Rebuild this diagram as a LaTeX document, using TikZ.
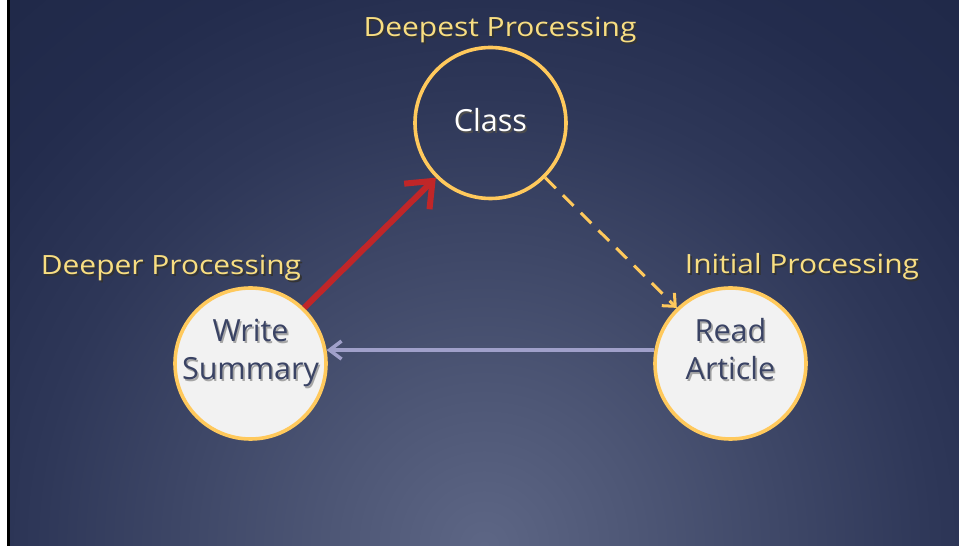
\documentclass[tikz,border=0pt]{standalone}
\usepackage{fontspec}
\setmainfont{Open Sans}
\usetikzlibrary{arrows.meta}

\definecolor{labelyellow}{RGB}{248,222,130}
\definecolor{ringgold}{RGB}{255,201,92}
\definecolor{discfill}{RGB}{242,242,242}
\definecolor{disctext}{RGB}{58,67,100}
\definecolor{redarrow}{RGB}{192,38,40}
\definecolor{lavender}{RGB}{160,160,202}
\definecolor{bgA}{RGB}{93,102,133}
\definecolor{bgB}{RGB}{78,87,118}
\definecolor{bgC}{RGB}{62,71,103}
\definecolor{bgD}{RGB}{46,55,88}
\definecolor{bgE}{RGB}{35,44,77}
\definecolor{bgF}{RGB}{30,39,70}

% backdrop: light glow rising from the bottom centre
\pgfdeclareradialshading{backdrop}{\pgfpoint{0pt}{0pt}}{%
  color(0pt)=(bgA); color(150pt)=(bgB); color(300pt)=(bgC);
  color(450pt)=(bgD); color(600pt)=(bgE); color(800pt)=(bgF)}

% text with a soft drop shadow
\newcommand\shadowtext[2]{\makebox[0pt][l]{\hspace{1.6pt}\raisebox{-1.6pt}{\color{#1}#2}}#2}
% wide label text
\newcommand\tiertext[1]{\scalebox{1.13}[1]{\shadowtext{black!80}{#1}}}

\begin{document}
\begin{tikzpicture}[x=1pt,y=1pt,
  ringnode/.style={circle, draw=ringgold, line width=3.6pt, minimum size=151pt, inner sep=0pt},
  disc/.style={ringnode, fill=discfill},
  hollow/.style={ringnode},
  disctxt/.style={anchor=base, inner sep=0pt, text=disctext, font=\fontsize{30.5}{38}\selectfont},
  hollowtxt/.style={anchor=base, inner sep=0pt, text=white, font=\fontsize{30.5}{38}\selectfont},
  tier/.style={anchor=base, text=labelyellow, font=\fontsize{26.5}{30}\selectfont, inner sep=0pt}]
\useasboundingbox (0,0) rectangle (959,546);

% frame strip and background
\fill[white] (0,0) rectangle (7,546);
\fill[black] (7,0) rectangle (10,546);
\begin{scope}
  \clip (10,0) rectangle (959,546);
  \node[inner sep=0pt] at (484,0) {\pgfuseshading{backdrop}};
\end{scope}

% processing stages
\node[hollow] (class) at (490.5,423) {};
\node[disc] (write) at (250.5,182.5) {};
\node[disc] (read) at (730.5,182.5) {};

\node[hollowtxt] (classtxt) at (490.5,414) {\shadowtext{black!70}{Class}};
\node[disctxt] (writetxt) at (250.5,204) {\shadowtext{black!35}{Write}};
\node[disctxt] (summarytxt) at (250.5,166) {\shadowtext{black!35}{Summary}};
\node[disctxt] (readtxt) at (730.5,204) {\shadowtext{black!35}{Read}};
\node[disctxt] (articletxt) at (730.5,166) {\shadowtext{black!35}{Article}};

% depth labels
\node[tier] (deepest) at (500,509) {\tiertext{Deepest Processing}};
\node[tier] (deeper) at (171,271) {\tiertext{Deeper Processing}};
\node[tier] (initial) at (802,272) {\tiertext{Initial Processing}};

% connectors
\draw[redarrow, line width=6pt, -{Straight Barb[length=22pt,width=36pt]}]
  (write.46.6) -- (class.225);
\draw[ringgold, line width=3pt, dash pattern=on 15pt off 10pt,
  -{Straight Barb[length=10pt,width=18pt]}]
  (class.-45) -- (read.134.5);
\draw[lavender, line width=3.5pt, -{Straight Barb[length=12pt,width=18pt]}]
  (read.170.7) -- (write.10);
\end{tikzpicture}
\end{document}
